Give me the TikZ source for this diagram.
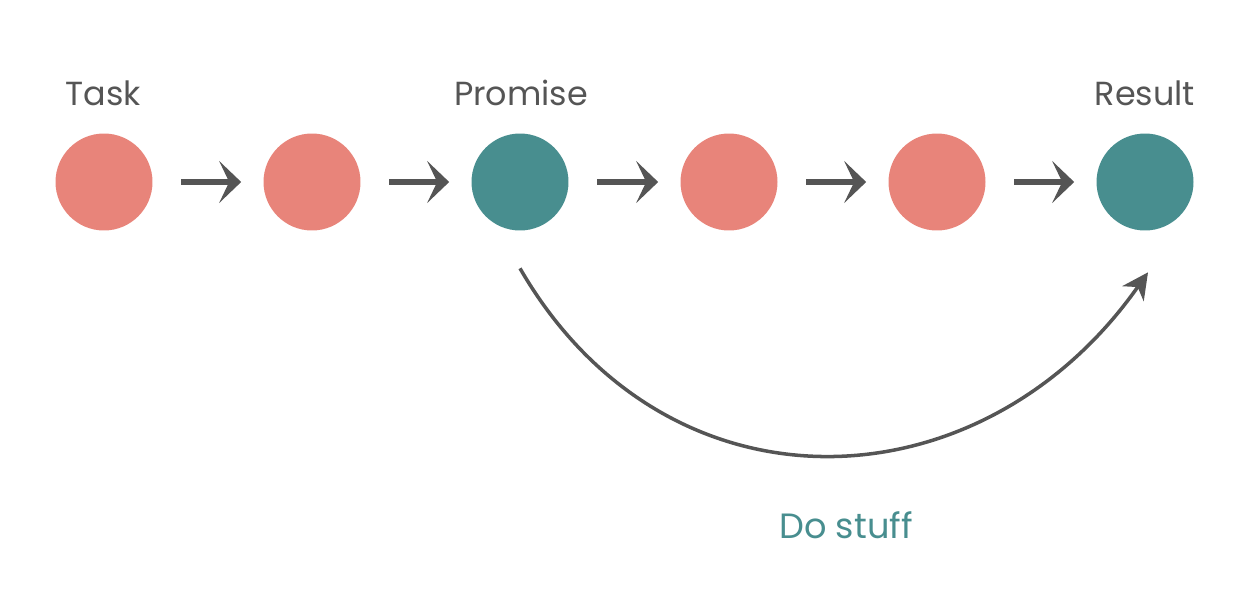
\documentclass[tikz,border=0pt]{standalone}
\usepackage{fontspec}
\setmainfont{Poppins}
\usepackage{tikz}
\usetikzlibrary{arrows.meta, positioning}
\definecolor{salmon}{HTML}{E8847A}
\definecolor{teal}{HTML}{488E8F}
\definecolor{ink}{HTML}{555555}

\tikzset{
  dot/.style={circle, minimum size=1.94cm, inner sep=0pt},
  step arrow/.style={ink, line width=3.4pt, shorten <=0.57cm, shorten >=0.44cm,
    -{Stealth[length=0.44cm, width=0.84cm, inset=0.2cm]}},
  curve arrow/.style={ink, line width=2pt,
    -{Stealth[length=0.52cm, width=0.52cm, inset=0.16cm]}},
  lbl/.style={ink, font=\fontsize{19}{22}\selectfont}
}

\begin{document}
\begin{tikzpicture}[x=0.02cm, y=-0.02cm]
\useasboundingbox (0,0) rectangle (1254,592);

% the chain
\node[dot, fill=salmon] (task) at (104,182) {};
\node[dot, fill=salmon] (step1) at (312,182) {};
\node[dot, fill=teal] (promise) at (520,182) {};
\node[dot, fill=salmon] (step3) at (729,182) {};
\node[dot, fill=salmon] (step4) at (937,182) {};
\node[dot, fill=teal] (result) at (1145,182) {};

\node[lbl] (tasklbl) at (103,93) {Task};
\node[lbl] (promiselbl) at (521,93) {Promise};
\node[lbl] (resultlbl) at (1145,93) {Result};

\foreach \a/\b in {task/step1, step1/promise, promise/step3, step3/step4, step4/result}
  \draw[step arrow] (\a) -- (\b);

% the long way round
\coordinate (dostart) at ([yshift=-0.75cm]promise.south);
\coordinate (doend) at ([xshift=0.06cm, yshift=-0.83cm]result.south);
\draw[curve arrow] (dostart) .. controls +(146,253) and +(-168,239) .. (doend);
\node[teal, font=\fontsize{20}{24}\selectfont] (dostuff) at (846,525) {Do stuff};
\end{tikzpicture}
\end{document}
